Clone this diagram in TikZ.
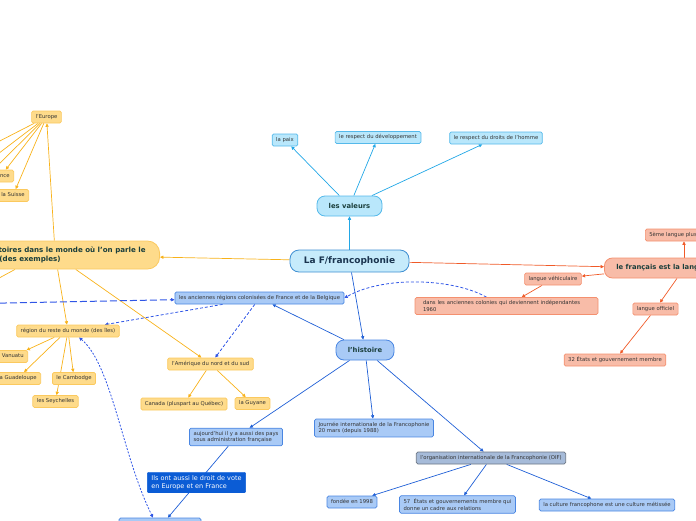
\documentclass[tikz,border=0pt]{standalone}
\usepackage{fontspec}
\setmainfont{DejaVu Sans}
\usetikzlibrary{arrows.meta}
\pgfdeclarelayer{background}
\pgfsetlayers{background,main}
\definecolor{txt}{HTML}{333333}
\definecolor{headtxt}{HTML}{1B3F3C}
\definecolor{navytxt}{HTML}{1A3550}
\definecolor{cyfill}{HTML}{B9E7FB}
\definecolor{cyborder}{HTML}{55B9EA}
\definecolor{cyline}{HTML}{22A7E6}
\definecolor{frfill}{HTML}{C6EBFB}
\definecolor{frborder}{HTML}{3F8FD2}
\definecolor{yfill}{HTML}{FEDB8B}
\definecolor{yborder}{HTML}{FBC95E}
\definecolor{yline}{HTML}{F8B21A}
\definecolor{sfill}{HTML}{F8BCA8}
\definecolor{sborder}{HTML}{F4906F}
\definecolor{sline}{HTML}{F05A28}
\definecolor{bfill}{HTML}{A9CAF6}
\definecolor{bborder}{HTML}{4A86E2}
\definecolor{bline}{HTML}{1F5FD6}
\definecolor{oiffill}{HTML}{A6BBD9}
\definecolor{oifborder}{HTML}{6B7684}
\definecolor{darkfill}{HTML}{0B5CD5}
\definecolor{dashc}{HTML}{3056E6}
\begin{document}
\begin{tikzpicture}[x=1pt,y=-1pt,
  tip/.style={-{Triangle[length=3.4pt,width=3.2pt]}},
  box/.style={draw, rounded corners=1.5pt, line width=0.7pt, inner xsep=4pt, inner ysep=0pt,
    minimum height=12pt, text height=4pt, text depth=1.2pt, text=txt,
    font=\fontsize{5.3}{6.6}\selectfont},
  boxtwo/.style={draw, rounded corners=1.5pt, line width=0.7pt, inner xsep=4pt, inner ysep=3pt,
    align=left, text=txt, font=\fontsize{5.3}{6.6}\selectfont},
  lvl/.style={draw, rounded corners=8pt, line width=0.8pt, text=headtxt,
    font=\bfseries\fontsize{6.8}{9}\selectfont},
  cy/.style={fill=cyfill, draw=cyborder},
  yel/.style={fill=yfill, draw=yborder},
  sal/.style={fill=sfill, draw=sborder},
  blu/.style={fill=bfill, draw=bborder},
  oifst/.style={fill=oiffill, draw=oifborder},
  cl/.style={draw=cyline, line width=0.7pt, tip},
  yl/.style={draw=yline, line width=0.7pt, tip},
  ylplain/.style={draw=yline, line width=0.7pt},
  sl/.style={draw=sline, line width=0.7pt, tip},
  bl/.style={draw=bline, line width=0.7pt, tip},
  dsh/.style={draw=dashc, line width=0.8pt, dash pattern=on 3pt off 2pt, tip},
  longdsh/.style={draw=dashc, line width=1pt, dash pattern=on 7pt off 3pt, tip},
  dotdsh/.style={draw=dashc, line width=0.8pt, dash pattern=on 2pt off 1.5pt,
    {Triangle[length=3.4pt,width=3.2pt]}-{Triangle[length=3.4pt,width=3.2pt]}}
]
\useasboundingbox (0,0) rectangle (696,520);
\clip (0,0) rectangle (696,520);

% central
\node[lvl, fill=frfill, draw=frborder, text=navytxt, minimum width=119pt, minimum height=22pt,
  rounded corners=9pt, font=\bfseries\fontsize{9}{11}\selectfont] (franco) at (349.5,261) {La F/francophonie};

% valeurs
\node[lvl, cy, minimum width=65pt, minimum height=20pt] (val) at (349.5,206) {les valeurs};
\node[box, cy] (paix) at (285,140) {la paix};
\node[box, cy] (dev) at (378,137.5) {le respect du développement};
\node[box, cy] (droits) at (496,138) {le respect du droits de l'homme};

% francais
\node[lvl, sal, minimum height=20pt, anchor=west, inner xsep=12pt] (fr) at (604,268) {le français est la langue};
\node[box, sal, anchor=west] (cinq) at (645,235) {5ème langue plus parlée};
\node[box, sal] (vehic) at (553,279) {langue véhiculaire};
\node[boxtwo, sal, inner xsep=8pt, text width=167pt] (dans) at (506.5,306) {dans les anciennes colonies qui deviennent indépendantes\\1960};
\node[box, sal] (offic) at (655.5,309) {langue officiel};
\node[box, sal] (etats) at (615,360) {32 États et gouvernement membre};

% territoires
\node[lvl, yel, anchor=east, align=left, inner xsep=14pt, inner ysep=5pt, minimum height=28pt,
  rounded corners=12pt, font=\bfseries\fontsize{7.1}{9}\selectfont] (terr) at (160,255) {Les territoires dans le monde où l'on parle le\\français (des exemples)};
\node[box, yel] (europe) at (46.5,117) {l'Europe};
\node[box, yel, anchor=east] (france) at (14,176) {France};
\node[box, yel, anchor=east] (suisse) at (29,195.5) {la Suisse};
\node[box, yel] (region) at (68,331) {région du reste du monde (des îles)};
\node[box, yel, anchor=east] (vanuatu) at (28,356.5) {Vanuatu};
\node[box, yel, anchor=east] (guad) at (41,378.5) {la Guadeloupe};
\node[box, yel] (camb) at (74,378.5) {le Cambodge};
\node[box, yel] (seych) at (55.5,401.5) {les Seychelles};
\node[box, yel] (amer) at (210.5,364) {l'Amérique du nord et du sud};
\node[box, yel] (canada) at (184,404) {Canada (pluspart au Québec)};
\node[box, yel] (guyane) at (252.5,403.5) {la Guyane};

% histoire
\node[box, blu] (anc) at (259.5,298) {les anciennes régions colonisées de France et de la Belgique};
\node[lvl, blu, minimum width=58pt, minimum height=20pt] (hist) at (365,350) {l'histoire};
\node[boxtwo, blu] (aujourd) at (236,437) {aujourd'hui il y a aussi des pays\\sous administration française};
\node[boxtwo, blu] (journee) at (374,428) {Journée internationale de la Francophonie\\20 mars (depuis 1988)};
\node[box, oifst] (oif) at (491,458) {l'organisation internationale de la Francophonie (OIF)};
\node[box, blu] (fondee) at (352,502) {fondée en 1998};
\node[boxtwo, blu] (cinqsept) at (457.5,504.5) {57 \ États et gouvernements membre qui\\donne un cadre aux relations};
\node[box, blu] (culture) at (607,505) {la culture francophone est une culture métissée};
\node[draw=darkfill, fill=darkfill, rounded corners=1pt, text=white, align=left, inner xsep=4pt, inner ysep=3pt,
  font=\fontsize{6.5}{8.2}\selectfont] (vote) at (196.5,482.5) {Ils ont aussi le droit de vote\\en Europe et en France};
\node[box, blu, minimum width=82pt, minimum height=18pt] (bottom) at (160,527) {};

% helper coordinates
\coordinate (eLa) at (-10,146);
\coordinate (eLb) at (-10,160);
\coordinate (eLc) at (-10,173);
\coordinate (tL) at (-10,283);
\coordinate (aL) at (-10,303.3);
\coordinate (xa) at (15,0);
\coordinate (xb) at (60,0);
\coordinate (xc) at (24,0);
\coordinate (xd) at (684,0);
\coordinate (xe) at (677,0);

\begin{pgfonlayer}{background}
% valeurs
\draw[cl] (franco) -- (val);
\draw[cl] (val) -- (paix);
\draw[cl] (val) -- (dev);
\draw[cl] (val) -- (droits);
% francais
\draw[sl] (franco) -- (fr);
\draw[sl] (fr.north -| xd) -- (cinq.south -| xd);
\draw[sl] (fr) -- (vehic);
\draw[sl] (vehic) -- (dans);
\draw[sl] (fr.south -| xe) -- (offic);
\draw[sl] (offic) -- (etats);
% territoires
\draw[yl] (franco) -- (terr);
\draw[yl] (terr) -- (europe);
\draw[ylplain] (terr.south -| xa) -- (tL);
\draw[yl] (terr) -- (region);
\draw[yl] (terr) -- (amer);
\draw[ylplain] (europe) -- (eLa);
\draw[ylplain] (europe) -- (eLb);
\draw[ylplain] (europe) -- (eLc);
\draw[yl] (europe) -- (france);
\draw[yl] (europe) -- (suisse);
\draw[yl] (region) -- (vanuatu);
\draw[yl] (region.south -| xb) -- (guad.north -| xc);
\draw[yl] (region) -- (camb);
\draw[yl] (region) -- (seych);
\draw[yl] (amer) -- (canada);
\draw[yl] (amer) -- (guyane);
% histoire
\draw[bl] (franco) -- (hist);
\draw[bl] (hist) -- (anc);
\draw[bl] (hist) -- (aujourd);
\draw[bl] (hist) -- (journee);
\draw[bl] (hist) -- (oif);
\draw[bl] (oif) -- (fondee);
\draw[bl] (oif) -- (cinqsept);
\draw[bl] (oif) -- (culture);
\draw[bl] (aujourd) -- (bottom);
% dashed relations
\draw[dsh] (anc) -- (region);
\draw[dsh] (anc) -- (amer);
\draw[longdsh] (aL) -- (anc);
\draw[dsh] ([xshift=-20pt]dans.north) .. controls (455,279) and (385,275) .. (anc.east);
\draw[dotdsh] ([xshift=11pt]region.south) .. controls (112,365) and (122,455) .. ([xshift=-7pt]bottom.north);
\end{pgfonlayer}
\end{tikzpicture}
\end{document}
